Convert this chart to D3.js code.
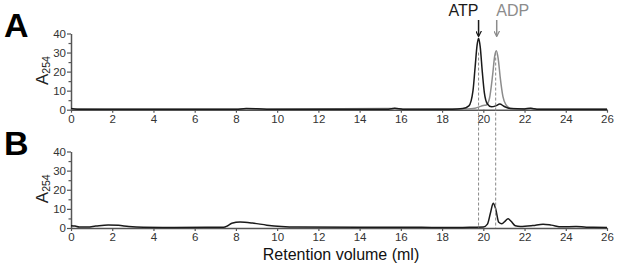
<!DOCTYPE html>
<html>
<head>
<meta charset="utf-8">
<script src="https://cdn.jsdelivr.net/npm/d3@7"></script>
<style>
  body { margin: 0; background: #fff; }
  svg { display: block; font-family: "Liberation Sans", Arial, sans-serif; }
</style>
</head>
<body>
<div id="chart"></div>
<script>
// Chromatogram traces, [retention volume (ml), A254]
const atpTraceA = [
  [0, 0.6], [0.3, 0.3], [2, 0.2], [8, 0.2], [8.5, 0.6], [9.5, 0.3], [15.4, 0.3], [15.7, 0.8], [16.1, 0.3],
  [18.5, 0.3], [19.0, 0.6], [19.3, 2], [19.5, 10], [19.6, 22], [19.7, 34], [19.77, 37.5], [19.85, 33],
  [19.95, 20], [20.05, 9], [20.2, 3], [20.4, 1.5], [20.6, 2], [20.8, 3], [21.0, 1.8], [21.3, 0.6],
  [22.0, 0.4], [22.3, 0.8], [22.6, 0.3], [26, 0.2]
];
const adpTraceA = [
  [0, 0.4], [2, 0.2], [8, 0.2], [8.5, 0.5], [9.5, 0.3], [15.7, 0.6], [16.1, 0.3], [19.2, 0.4],
  [19.6, 0.8], [19.8, 1.5], [20.0, 2.2], [20.15, 2.5], [20.3, 6], [20.45, 18], [20.55, 28], [20.63, 31],
  [20.72, 27], [20.82, 17], [20.95, 7], [21.1, 2.5], [21.3, 0.8], [21.6, 0.4], [22.3, 0.6], [22.6, 0.3], [26, 0.2]
];
const traceB = [
  [0, 1.2], [0.2, 1.0], [0.4, 0.5], [0.8, 0.5], [1.2, 1.0], [1.8, 1.6], [2.3, 1.4], [2.8, 0.8], [3.5, 0.4],
  [5, 0.3], [7.4, 0.4], [7.6, 1.2], [7.8, 2.5], [8.2, 3.1], [8.8, 2.6], [9.5, 1.5], [10.2, 0.8], [11, 0.5],
  [14, 0.4], [17, 0.4], [18, 0.2], [19, 0.3], [19.5, 0.4], [20.0, 0.5], [20.2, 2], [20.35, 8], [20.48, 13],
  [20.6, 10], [20.75, 3], [20.9, 2.2], [21.05, 3.5], [21.2, 4.8], [21.35, 3.5], [21.55, 1.2], [21.8, 0.8],
  [22.4, 1.3], [22.9, 2.0], [23.3, 1.5], [23.8, 0.6], [24.5, 0.8], [25, 0.4], [26, 0.3]
];
const xTicks = [0, 2, 4, 6, 8, 10, 12, 14, 16, 18, 20, 22, 24, 26];
const yTicks = [0, 10, 20, 30, 40];
const yMinorTicks = [5, 15, 25, 35];
const atpPos = 19.77;
const adpPos = 20.6;

const width = 617, height = 266;
const svg = d3.select("#chart").append("svg")
  .attr("width", width)
  .attr("height", height);

const x = d3.scaleLinear().domain([0, 26]).range([71, 607]);
const yA = d3.scaleLinear().domain([0, 40]).range([109.7, 33.5]);
const yB = d3.scaleLinear().domain([0, 40]).range([228, 151.5]);

function drawPanel(y, letter, traces) {
  const g = svg.append("g");

  // minor y ticks
  g.append("g")
    .attr("transform", `translate(${x(0)},0)`)
    .call(d3.axisLeft(y).tickValues(yMinorTicks).tickSize(2.5).tickFormat(""))
    .call(a => a.select(".domain").remove())
    .selectAll("line").attr("stroke", "#555").attr("stroke-width", 1.2);

  const ya = g.append("g")
    .attr("transform", `translate(${x(0)},0)`)
    .call(d3.axisLeft(y).tickValues(yTicks).tickSize(4).tickPadding(1).tickSizeOuter(0));
  ya.select(".domain").attr("stroke", "#555").attr("stroke-width", 1.5);
  ya.selectAll("line").attr("stroke", "#555").attr("stroke-width", 1.2);
  ya.selectAll("text").attr("fill", "#333").style("font-size", "11.5px");

  const xa = g.append("g")
    .attr("transform", `translate(0,${y(0)})`)
    .call(d3.axisBottom(x).tickValues(xTicks).tickSize(3).tickPadding(2).tickSizeOuter(0));
  xa.select(".domain").attr("stroke", "#555").attr("stroke-width", 1.5);
  xa.selectAll("line").attr("stroke", "#555").attr("stroke-width", 1.2);
  xa.selectAll("text").attr("fill", "#333").style("font-size", "11.5px");

  // y label A254
  const lab = g.append("text")
    .attr("transform", `translate(48,${(y(0) + y(40)) / 2 - 1}) rotate(-90)`)
    .attr("text-anchor", "middle")
    .attr("fill", "#222")
    .style("font-size", "17px");
  lab.append("tspan").text("A");
  lab.append("tspan").attr("dy", 2).style("font-size", "10.5px").text("254");

  // panel letter
  svg.append("text")
    .attr("x", 4)
    .attr("y", y(40) + 3)
    .attr("fill", "#000")
    .style("font-size", "34px")
    .style("font-weight", "bold")
    .text(letter);

  traces.forEach(t => {
    g.append("path")
      .datum(t.data)
      .attr("fill", "none")
      .attr("stroke", t.color)
      .attr("stroke-width", 1.5)
      .attr("d", d3.line().curve(d3.curveMonotoneX).x(d => x(d[0])).y(d => y(d[1])));
  });
}

drawPanel(yA, "A", [
  { data: adpTraceA, color: "#8c8c8c" },
  { data: atpTraceA, color: "#1a1a1a" }
]);
drawPanel(yB, "B", [
  { data: traceB, color: "#1a1a1a" }
]);

// dashed guides through both panels
[atpPos, adpPos].forEach(v => {
  svg.append("line")
    .attr("x1", x(v)).attr("x2", x(v))
    .attr("y1", yA(30)).attr("y2", yB(0))
    .attr("stroke", "#888")
    .attr("stroke-width", 1)
    .attr("stroke-dasharray", "3,2");
});

// arrows and labels
const arrows = [
  { pos: atpPos, label: "ATP", color: "#1a1a1a" },
  { pos: adpPos + 0.05, label: "ADP", color: "#8c8c8c" }
];
const defs = svg.append("defs");
arrows.forEach((a, i) => {
  defs.append("marker")
    .attr("id", "arr" + i)
    .attr("viewBox", "0 0 10 10")
    .attr("refX", 9).attr("refY", 5)
    .attr("markerWidth", 6).attr("markerHeight", 6)
    .attr("markerUnits", "userSpaceOnUse")
    .attr("orient", "auto")
    .append("path")
    .attr("d", "M0,0 L10,5 L0,10")
    .attr("fill", "none")
    .attr("stroke", a.color)
    .attr("stroke-width", 2);
  svg.append("line")
    .attr("x1", x(a.pos)).attr("x2", x(a.pos))
    .attr("y1", 20).attr("y2", 36)
    .attr("stroke", a.color)
    .attr("stroke-width", 1.5)
    .attr("marker-end", `url(#arr${i})`);
  svg.append("text")
    .attr("x", x(a.pos) + (i === 0 ? -15 : 16))
    .attr("y", 16)
    .attr("text-anchor", "middle")
    .attr("fill", a.color)
    .style("font-size", "16px")
    .text(a.label);
});

// x axis title
svg.append("text")
  .attr("x", 341)
  .attr("y", 260)
  .attr("text-anchor", "middle")
  .attr("fill", "#111")
  .style("font-size", "16px")
  .text("Retention volume (ml)");
</script>
</body>
</html>
